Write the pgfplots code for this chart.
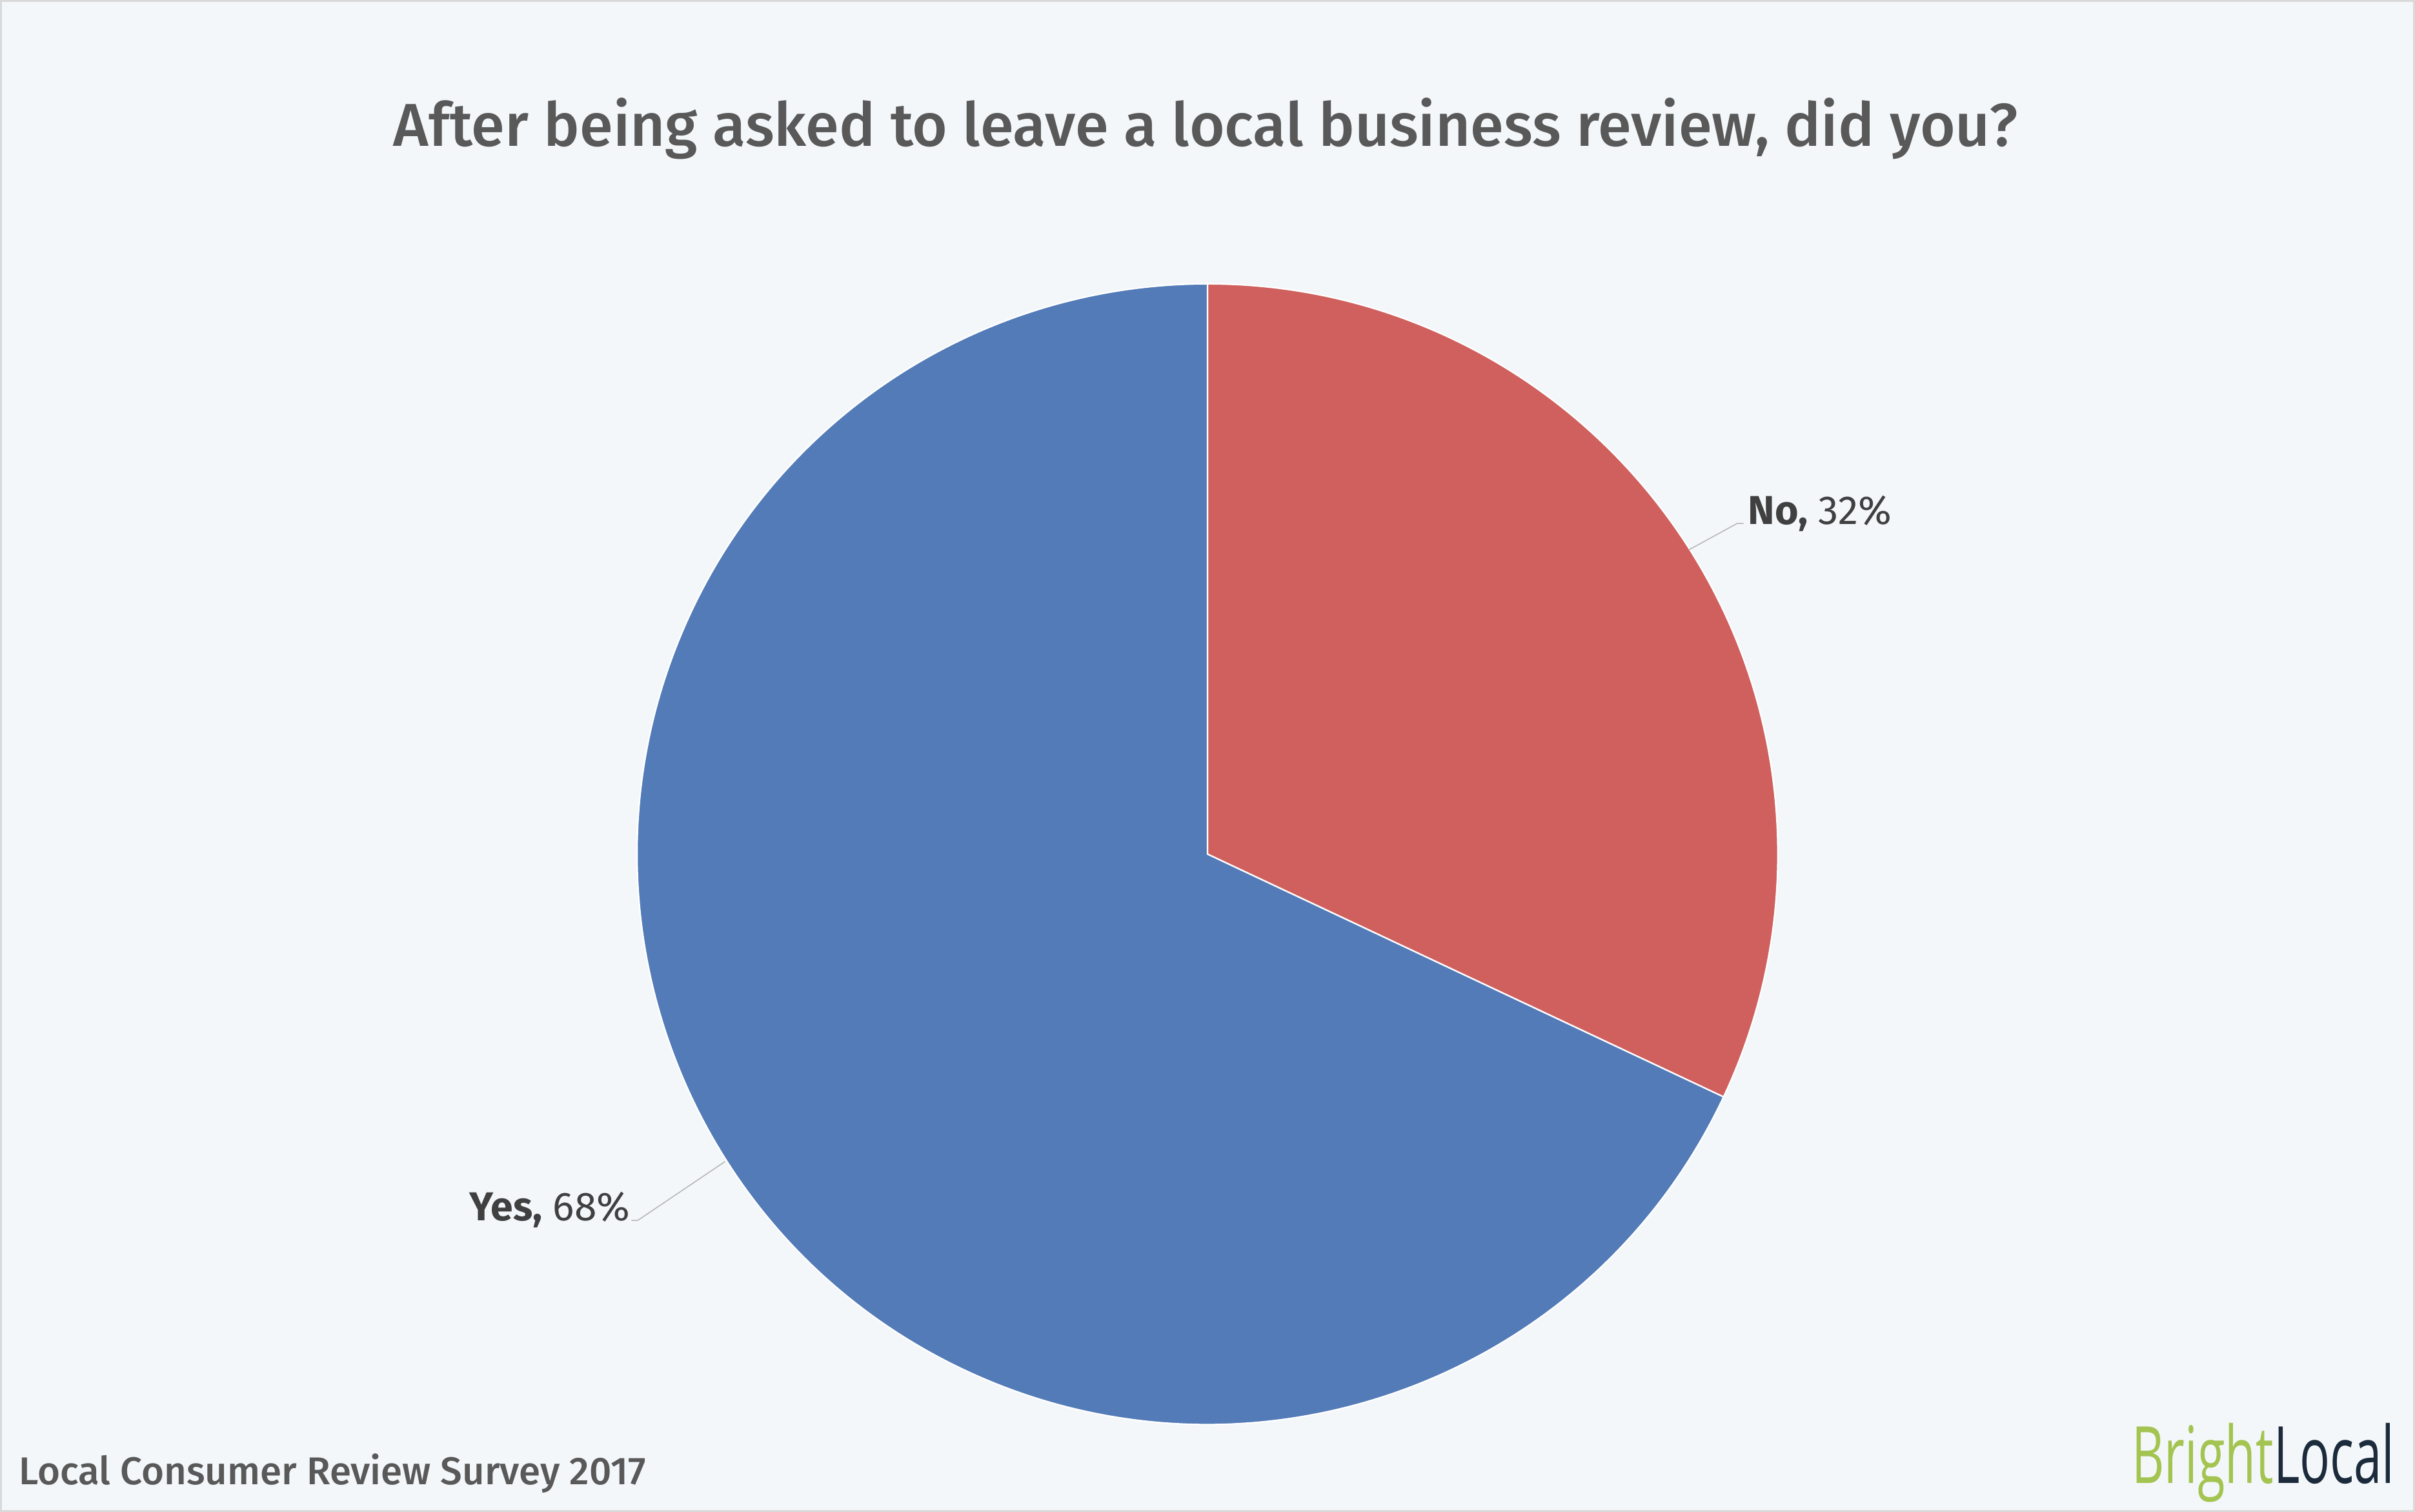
\documentclass[border=0pt]{standalone}
\usepackage{pgfplots}
\pgfplotsset{compat=1.18}
\usepackage{pgfplotstable}
\usepackage{fontspec}
\setmainfont{Fira Sans}
\newfontfamily\medfont{Fira Sans Medium}
\newfontfamily\logofont{Open Sans}
\definecolor{bg}{HTML}{F3F7FA}
\definecolor{frame}{HTML}{D9D9D9}
\definecolor{yesblue}{HTML}{537BB8}
\definecolor{nored}{HTML}{D0605E}
\definecolor{titlegray}{HTML}{595959}
\definecolor{labgray}{HTML}{404040}
\definecolor{leader}{HTML}{B4B4B4}
\definecolor{brightgreen}{HTML}{A4C452}
\definecolor{localnavy}{HTML}{1C2B3C}
\pgfplotstableread{
label value
No 32
Yes 68
}\piedata
\begin{document}
\begin{tikzpicture}
\begin{axis}[scale only axis, width=748.4bp, height=468.8bp,
  xmin=0, xmax=3742, ymin=0, ymax=2344, y dir=reverse,
  hide axis, clip=false]
\fill[bg, draw=frame, line width=0.6bp] (axis cs:3,3) rectangle (axis cs:3739,2341);
\pgfplotstablegetelem{0}{value}\of\piedata \pgfmathsetmacro\valNo{\pgfplotsretval}
\pgfplotstablegetelem{1}{value}\of\piedata \pgfmathsetmacro\valYes{\pgfplotsretval}
\pgfmathsetmacro\angEnd{90-\valNo/100*360}
\pgfmathsetmacro\angYesEnd{\angEnd-\valYes/100*360}
\def\R{176.6bp}
\fill[nored, draw=white, line width=0.45bp] (axis cs:1871,1324) -- ++(90:\R) arc[start angle=90, end angle=\angEnd, radius=\R] -- cycle;
\fill[yesblue, draw=white, line width=0.45bp] (axis cs:1871,1324) -- ++(\angEnd:\R) arc[start angle=\angEnd, end angle=\angYesEnd, radius=\R] -- cycle;
% leader lines
\draw[leader, line width=0.3bp] (axis cs:2616,853) -- (axis cs:2691,812) -- (axis cs:2701,812);
\draw[leader, line width=0.3bp] (axis cs:1124,1800) -- (axis cs:989,1891) -- (axis cs:979,1891);
% labels
\node[anchor=base west, inner sep=0pt, text=labgray, font=\fontsize{12.5bp}{14bp}\selectfont] at (axis cs:2707,813) {\textbf{No,} 32\%};
\node[anchor=base east, inner sep=0pt, text=labgray, font=\fontsize{12.5bp}{14bp}\selectfont] at (axis cs:978,1891) {\textbf{Yes,} 68\%};
% title
\node[anchor=base, inner sep=0pt, text=titlegray, font=\fontsize{18.75bp}{22bp}\medfont] at (axis cs:1868,228) {After being asked to leave a local business review, did you?};
% footer
\node[anchor=base west, inner sep=0pt, text=titlegray, font=\fontsize{12bp}{14bp}\medfont] at (axis cs:30,2300) {Local Consumer Review Survey 2017};
% logo
\node[anchor=base east, inner sep=0pt, font=\fontsize{24.5bp}{26bp}\logofont] at (axis cs:3710,2298) {\scalebox{0.635}[1]{\textcolor{brightgreen}{Bright}\textcolor{localnavy}{Local}}};
\end{axis}
\end{tikzpicture}
\end{document}
